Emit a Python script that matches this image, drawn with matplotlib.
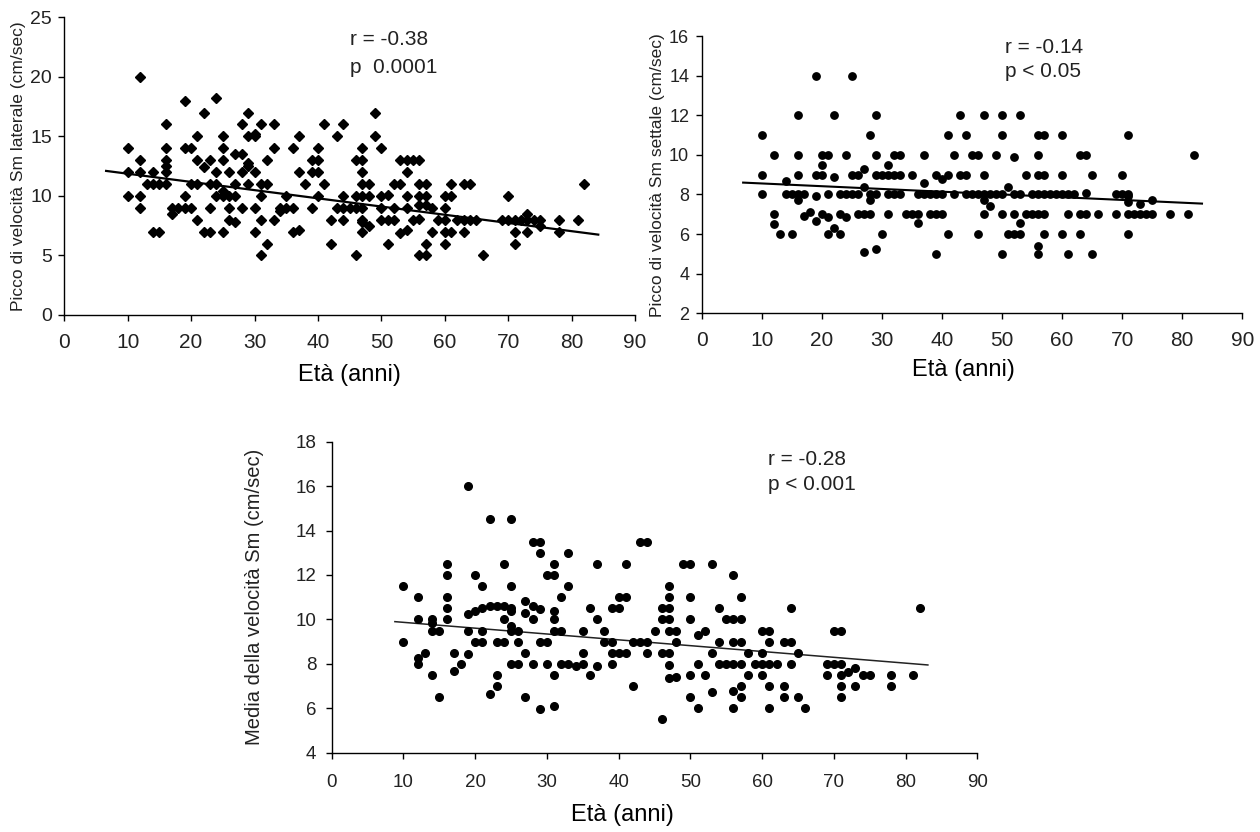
import matplotlib
matplotlib.use("Agg")
import matplotlib.pyplot as plt
from matplotlib import font_manager

# --- Picco di velocità Sm laterale (diamanti, grafico in alto a sinistra) ---
lat_age = [10, 10, 10, 12, 12, 12, 12, 12, 13, 14, 14, 14, 15, 15,
           16, 16, 16, 16, 16, 16, 17, 17, 18, 19, 19, 19, 19, 20, 20, 20,
           21, 21, 21, 21, 22, 22, 22, 23, 23, 23, 23, 24, 24, 24, 24,
           25, 25, 25, 25, 25, 25, 26, 26, 26, 26, 27, 27, 27, 27,
           28, 28, 28, 28, 29, 29, 29, 29, 29, 30, 30, 30, 30, 30,
           31, 31, 31, 31, 31, 32, 32, 32, 33, 33, 33, 34, 34, 35, 35,
           36, 36, 36, 37, 37, 37, 38, 39, 39, 39, 40, 40, 40, 40, 41, 41,
           42, 42, 43, 43, 44, 44, 44, 44, 45, 46, 46, 46, 46,
           47, 47, 47, 47, 47, 47, 47, 47, 47, 48, 48, 48, 49, 49,
           50, 50, 50, 50, 51, 51, 51, 52, 52, 52, 53, 53, 53,
           54, 54, 54, 54, 54, 55, 55, 56, 56, 56, 56, 56, 56,
           57, 57, 57, 57, 57, 58, 58, 59, 60, 60, 60, 60, 60, 61, 61, 61,
           62, 63, 63, 63, 64, 64, 65, 66, 69, 70, 70, 71, 71, 71, 72,
           73, 73, 73, 74, 75, 75, 78, 78, 81, 82]
lat_vel = [14, 12, 10, 20, 13, 12, 10, 9, 11, 12, 11, 7, 11, 7,
           16, 14, 13, 12.5, 12, 11, 9, 8.5, 9, 18, 14, 10, 9, 14, 11, 9,
           15, 13, 11, 8, 17, 12.4, 7, 13, 11, 9, 7, 18.2, 12, 11, 10,
           15, 14, 13, 10.4, 10, 7, 12, 10, 9, 8, 13.5, 11, 10, 7.8,
           16, 13.5, 12, 9, 17, 15, 12.8, 12.5, 11, 15.2, 15, 12, 9, 7,
           16, 11, 10, 8, 5, 13, 11, 6, 16, 14, 8, 9, 8.7, 10, 9,
           14, 9, 7, 15, 12, 7.1, 11, 13, 12, 9, 14, 13, 12, 10, 16, 11,
           8, 6, 15, 9, 16, 10, 9, 8, 9, 13, 10, 9, 5,
           14, 13, 12, 11, 10, 9, 8, 7.8, 7, 11, 10, 7.5, 17, 15,
           14, 10, 9, 8, 10.1, 8, 6, 11, 9, 8, 13, 11, 6.9,
           13, 12, 10, 9, 7.1, 13, 8, 13, 11, 10, 9.2, 8.1, 5,
           11, 10, 9.2, 6, 5, 9, 7, 8, 10, 9, 8, 7, 6, 11, 10, 7,
           8, 11, 8, 7, 11, 8, 8, 5, 8, 10, 8, 8, 7, 6, 8,
           8.5, 8, 7, 8, 8, 7.5, 8, 7, 8, 11]

# --- Picco di velocità Sm settale (cerchi, grafico in alto a destra) ---
set_age = [10, 10, 10, 12, 12, 12, 13, 14, 14, 15, 15, 16, 16, 16, 16, 16,
           17, 17, 18, 19, 19, 19, 19, 20, 20, 20, 20, 21, 21, 21, 21,
           22, 22, 22, 23, 23, 23, 24, 24, 24, 25, 25, 25, 26, 26, 26,
           27, 27, 27, 27, 28, 28, 28, 28, 29, 29, 29, 29, 29, 30, 30,
           31, 31, 31, 31, 32, 32, 32, 33, 33, 33, 34, 35, 35, 36, 36, 36,
           37, 37, 37, 38, 38, 39, 39, 39, 39, 40, 40, 40, 41, 41, 41,
           42, 42, 43, 43, 44, 44, 44, 45, 45, 46, 46, 46,
           47, 47, 47, 47, 47, 48, 48, 49, 49, 50, 50, 50, 50, 50, 51, 51,
           52, 52, 52, 52, 53, 53, 53, 53, 54, 54, 55, 55,
           56, 56, 56, 56, 56, 56, 56, 57, 57, 57, 57, 57, 58, 59,
           60, 60, 60, 60, 61, 61, 61, 62, 63, 63, 63, 64, 64, 64, 65, 65,
           66, 69, 69, 70, 70, 71, 71, 71, 71, 71, 71, 72, 73, 73, 74,
           75, 75, 78, 81, 82]
set_vel = [11, 9, 8, 10, 7, 6.5, 6, 8.7, 8, 8, 6, 12, 10, 9, 8, 7.7,
           8, 6.9, 7.1, 14, 9, 7.9, 6.65, 10, 9.5, 9, 7, 10, 8, 6.85, 6,
           12, 8.9, 6.3, 8, 7, 6, 10, 8, 6.85, 14, 9, 8, 9, 8, 7,
           9.3, 8.4, 7, 5.1, 11, 8, 7.7, 7, 12, 10, 9, 8, 5.25, 9, 6,
           9.5, 9, 8, 7, 10, 9, 8, 10, 9, 8, 7, 9, 7, 8, 7, 6.55,
           10, 8.6, 8, 8, 7, 9, 8, 7, 5, 8.8, 8, 7, 11, 9, 6,
           10, 8, 12, 9, 11, 9, 8, 10, 8, 10, 8, 6,
           12, 9, 8, 7.7, 7, 8, 7.4, 10, 8, 12, 11, 8, 7, 5, 8.4, 6,
           9.9, 8, 7, 6, 12, 8, 6.55, 6, 9, 7, 8, 7,
           11, 10, 9, 8, 7, 5.4, 5, 11, 9, 8, 7, 6, 8, 8,
           11, 9, 8, 6, 8, 7, 5, 8, 10, 7, 6, 10, 8.1, 7, 9, 5,
           7, 8, 7, 9, 8, 11, 8, 7.9, 7.6, 7, 6, 7, 7.5, 7, 7,
           7.7, 7, 7, 7, 10]

# --- Media della velocità Sm (cerchi, grafico in basso) ---
med_age = [10, 10, 12, 12, 12, 12, 13, 14, 14, 14, 14, 15, 15,
           16, 16, 16, 16, 16, 17, 17, 18, 19, 19, 19, 19, 20, 20, 20,
           21, 21, 21, 21, 22, 22, 22, 23, 23, 23, 23, 24, 24, 24, 24,
           25, 25, 25, 25, 25, 25, 25, 26, 26, 26, 27, 27, 27, 27,
           28, 28, 28, 28, 29, 29, 29, 29, 29, 30, 30, 30,
           31, 31, 31, 31, 31, 31, 31, 32, 32, 32, 33, 33, 33, 34,
           35, 35, 35, 36, 36, 37, 37, 37, 38, 38, 39, 39, 39, 39,
           40, 40, 40, 41, 41, 41, 42, 42, 43, 43, 44, 44, 44, 45,
           46, 46, 46, 46, 47, 47, 47, 47, 47, 47, 47, 47, 48, 48, 48, 49,
           50, 50, 50, 50, 50, 51, 51, 51, 52, 52, 53, 53, 53, 54, 54, 54,
           55, 55, 56, 56, 56, 56, 56, 56, 57, 57, 57, 57, 57, 57, 58, 58,
           59, 60, 60, 60, 60, 61, 61, 61, 61, 61, 62, 63, 63, 63,
           64, 64, 64, 65, 65, 66, 69, 69, 70, 70, 71, 71, 71, 71, 71,
           72, 73, 73, 74, 75, 78, 78, 81, 82]
med_vel = [11.5, 9, 11, 10, 8.25, 8, 8.5, 10, 9.85, 9.5, 7.5, 9.5, 6.5,
           12.5, 12, 11, 10.5, 10, 8.5, 7.7, 8, 16, 10.25, 9.5, 8.45, 12, 10.4, 9,
           11.5, 10.5, 9.5, 9, 14.5, 10.6, 6.65, 10.6, 9, 7.5, 7, 12.5, 10.6, 10, 9,
           14.5, 11.5, 10.5, 10.4, 9.7, 9.5, 8, 9.5, 9, 8, 10.85, 10.3, 8.5, 6.5,
           13.5, 10.6, 10, 8, 13.5, 13, 10.45, 9, 5.95, 12, 9, 8,
           12.5, 12, 10.4, 10, 9.5, 7.5, 6.1, 11, 9.5, 8, 13, 11.5, 8, 7.9,
           9.5, 8.5, 8, 10.5, 7.5, 12.5, 10, 7.9, 9.5, 9, 10.5, 9, 8.5, 8,
           11, 10.5, 8.5, 12.5, 11, 8.5, 9, 7, 13.5, 9, 13.5, 9, 8.5, 9.5,
           10.5, 10, 8.5, 5.5, 11.5, 11, 10.5, 10, 9.5, 8.5, 7.95, 7.35, 9.5, 9, 7.4, 12.5,
           12.5, 11, 10, 7.5, 6.5, 9.3, 8, 6, 9.5, 7.5, 12.5, 8.5, 6.75, 10.5, 9, 8,
           10, 8, 12, 10, 9, 8, 6.8, 6, 11, 10, 9, 8, 7, 6.5, 8.5, 7.5,
           8, 9.5, 8.5, 8, 7.5, 9.5, 9, 8, 7, 6, 8, 9, 7, 6.5,
           10.5, 9, 8, 8.5, 6.5, 6, 8, 7.5, 9.5, 8, 9.5, 8, 7.5, 7, 6.5,
           7.65, 7.8, 7, 7.5, 7.5, 7.5, 7, 7.5, 10.5]

# linee di tendenza: estremi (età, velocità)
lat_trend_x = [6.6, 84.2]
lat_trend_y = [12.1, 6.75]
set_trend_x = [6.9, 83.3]
set_trend_y = [8.6, 7.54]
med_trend_x = [8.8, 83.1]
med_trend_y = [9.9, 7.95]

x_ticks = list(range(0, 100, 10))

names = {f.name for f in font_manager.fontManager.ttflist}
narrow = "Liberation Sans Narrow" if "Liberation Sans Narrow" in names else "Liberation Sans"
plt.rcParams["font.family"] = ["Liberation Sans", "DejaVu Sans"]

fig = plt.figure(figsize=(12.6, 8.32), dpi=100)
fig.patch.set_facecolor("white")


def prepara_assi(ax, ylim, yticks, ylabel, tick_font, xsize, ysize, ylab_x, xlab_x, ylab_size, xpad, ypad):
    ax.set_xlim(0, 90)
    ax.set_ylim(*ylim)
    ax.set_xticks(x_ticks)
    ax.set_yticks(yticks)
    for s in ["top", "right"]:
        ax.spines[s].set_visible(False)
    for s in ["left", "bottom"]:
        ax.spines[s].set_linewidth(1.0)
    ax.tick_params(direction="out", length=4, width=1.0, colors="black")
    ax.tick_params(axis="x", pad=xpad)
    ax.tick_params(axis="y", pad=ypad)
    for lab in ax.get_xticklabels():
        lab.set_fontfamily(tick_font)
        lab.set_fontsize(xsize)
        lab.set_color("#222222")
    for lab in ax.get_yticklabels():
        lab.set_fontfamily(tick_font)
        lab.set_fontsize(ysize)
        lab.set_color("#222222")
    ax.set_ylabel(ylabel, fontsize=ylab_size, color="#222222")
    ax.yaxis.set_label_coords(ylab_x, 0.5)
    ax.set_xlabel("Età (anni)", fontsize=17)
    ax.xaxis.set_label_coords(xlab_x, -0.165)


# grafico 1
ax1 = fig.add_axes([0.0510, 0.6214, 0.4530, 0.3578])
ax1.plot(lat_age, lat_vel, "D", ms=5.2, color="black", zorder=3)
ax1.plot(lat_trend_x, lat_trend_y, color="black", lw=1.6)
prepara_assi(ax1, (0, 25), range(0, 30, 5), "Picco di velocità Sm laterale (cm/sec)",
             narrow, 15, 14, -0.067, 0.5, 12.5, 9, 5)
ax1.text(45.0, 23.1, "r = -0.38", fontsize=15, va="center", color="#222222")
ax1.text(45.0, 20.8, "p  0.0001", fontsize=15, va="center", color="#222222")

# grafico 2
ax2 = fig.add_axes([0.5569, 0.6234, 0.4290, 0.3333])
ax2.plot(set_age, set_vel, "o", ms=5.3, color="black", zorder=3)
ax2.plot(set_trend_x, set_trend_y, color="black", lw=1.5)
prepara_assi(ax2, (2, 16), range(2, 18, 2), "Picco di velocità Sm settale (cm/sec)",
             narrow, 15, 13, -0.068, 0.485, 12.5, 9, 5)
ax2.text(50.5, 15.4, "r = -0.14", fontsize=15, va="center", color="#222222")
ax2.text(50.5, 14.2, "p < 0.05", fontsize=15, va="center", color="#222222")

# grafico 3
ax3 = fig.add_axes([0.2633, 0.0953, 0.5124, 0.3738])
ax3.plot(med_age, med_vel, "o", ms=5.5, color="black", zorder=3)
ax3.plot(med_trend_x, med_trend_y, color="#222222", lw=1.1)
prepara_assi(ax3, (4, 18), range(4, 20, 2), "Media della velocità Sm (cm/sec)",
             "Liberation Sans", 13.5, 13.5, -0.105, 0.451, 14.5, 11, 7)
ax3.text(60.8, 17.2, "r = -0.28", fontsize=15, va="center", color="#222222")
ax3.text(60.8, 16.06, "p < 0.001", fontsize=15, va="center", color="#222222")

fig.savefig("out.png", dpi=100, facecolor="white")
